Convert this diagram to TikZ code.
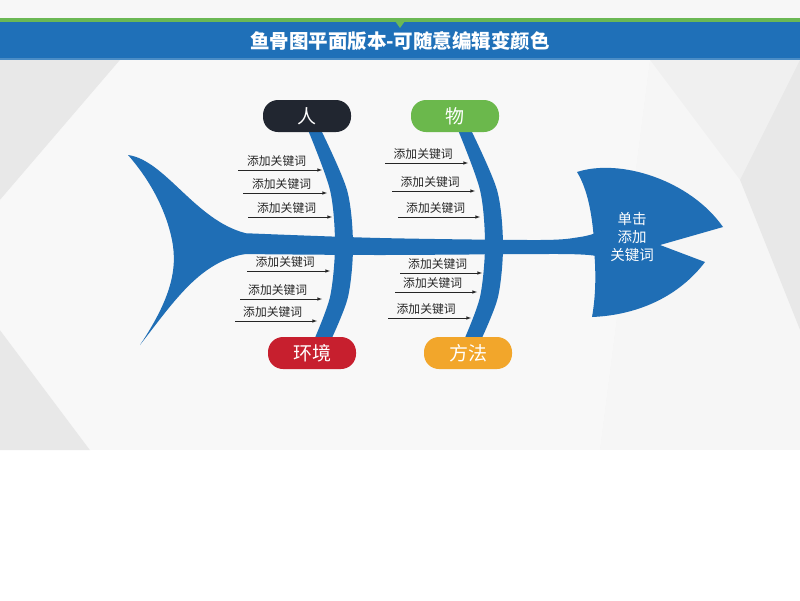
\documentclass[tikz,border=0pt]{standalone}
\usepackage{fontspec}
\setmainfont{Noto Sans CJK SC}
\usepackage{tikz}
\usetikzlibrary{positioning}
\definecolor{fishblue}{rgb}{0.12, 0.43, 0.71}
\definecolor{barblue}{rgb}{0.12, 0.44, 0.72}
\definecolor{bargreen}{rgb}{0.42, 0.72, 0.33}
\definecolor{pilldark}{rgb}{0.13, 0.15, 0.19}
\definecolor{pillgreen}{rgb}{0.42, 0.72, 0.30}
\definecolor{pillred}{rgb}{0.78, 0.12, 0.18}
\definecolor{pillorange}{rgb}{0.95, 0.65, 0.17}
\definecolor{bggray}{rgb}{0.94, 0.94, 0.94}
\definecolor{bgdark}{rgb}{0.91, 0.91, 0.91}
\definecolor{txt}{rgb}{0.15, 0.15, 0.15}
\tikzstyle{pill} = [rectangle,rounded corners=15pt,minimum width=88pt,minimum height=32pt,text=white,font=\fontsize{19}{19}\selectfont]
\tikzstyle{lbl} = [font=\fontsize{11.8}{12}\selectfont,text=txt,inner sep=1pt,above=2.5pt,pos=0.46]
\tikzstyle{arr} = [-latex,draw=txt,line width=0.6pt]
\tikzstyle{bone} = [fill=fishblue,draw=none]

\begin{document}
\begin{tikzpicture}[x=1pt,y=-1pt]
			\useasboundingbox (0,0) rectangle (800,600);
			\fill[white] (0,0) rectangle (800,600);
			\fill[bggray] (0,0) rectangle (800,450);
			\fill[bgdark] (0,60) -- (120,60) -- (0,200) -- cycle;
			\fill[bgdark] (800,60) -- (800,330) -- (740,180) -- cycle;
			\fill[bgdark] (0,330) -- (90,450) -- (0,450) -- cycle;
			\fill[white,opacity=0.55] (120,60) -- (650,60) -- (600,450) -- (90,450) -- (0,330) -- (0,200) -- cycle;
			\fill[white,opacity=0.4] (650,60) -- (740,180) -- (800,330) -- (800,450) -- (600,450) -- cycle;
			\fill[white,opacity=0.5] (0,0) rectangle (800,18);
			\fill[bargreen] (0,18) rectangle (800,22);
			\fill[barblue] (0,22) rectangle (800,60);
			\fill[barblue!80!white] (0,58) rectangle (800,60);
			\fill[bargreen] (395,21) -- (405,21) -- (400,28) -- cycle;
			\node[text=white,font=\fontsize{19.5}{20}\selectfont\bfseries](title) at (400,41){鱼骨图平面版本-可随意编辑变颜色};

			\fill[bone] (128,155) .. controls (165,160) and (195,220) .. (245,233) -- (245,254) .. controls (200,262) and (175,300) .. (140,345) .. controls (170,300) and (178,270) .. (172,240) .. controls (166,210) and (150,180) .. (128,155) -- cycle;
			\fill[bone] plot[smooth] coordinates {(240,233) (380,238) (540,240) (580,237) (596,233)} -- plot[smooth] coordinates {(596,256) (560,254) (380,255) (240,254)} -- cycle;
			\fill[bone] (577,172) .. controls (620,158) and (690,180) .. (723,227) -- (660,245) -- (705,262) .. controls (680,295) and (640,315) .. (592,317) .. controls (596,295) and (596,270) .. (594,250) -- (594,240) .. controls (592,215) and (588,190) .. (577,172) -- cycle;
			\fill[bone] plot[smooth] coordinates {(308,130) (330,190) (335,245) (330,297) (314,340)} -- plot[smooth] coordinates {(331,340) (348,297) (353,245) (347,190) (321,130)} -- cycle;
			\fill[bone] plot[smooth] coordinates {(458,130) (480,190) (485,245) (480,297) (464,340)} -- plot[smooth] coordinates {(481,340) (498,297) (503,245) (497,190) (471,130)} -- cycle;

			\node[text=white,align=center,font=\fontsize{14.5}{18}\selectfont](head) at (632,237){单击\\添加\\关键词};

			\node[pill,fill=pilldark](ren) at (307,116){人};
			\node[pill,fill=pillgreen](wu) at (455,116){物};
			\node[pill,fill=pillred](hj) at (312,353){环境};
			\node[pill,fill=pillorange](ff) at (468,353){方法};

			\coordinate (k1a) at (238,170); \coordinate (k1b) at (322,170);
			\coordinate (k2a) at (243,193); \coordinate (k2b) at (327,193);
			\coordinate (k3a) at (248,217); \coordinate (k3b) at (332,217);
			\coordinate (k4a) at (247,271); \coordinate (k4b) at (330,271);
			\coordinate (k5a) at (240,299); \coordinate (k5b) at (322,299);
			\coordinate (k6a) at (235,321); \coordinate (k6b) at (317,321);
			\coordinate (k7a) at (385,163); \coordinate (k7b) at (468,163);
			\coordinate (k8a) at (392,191); \coordinate (k8b) at (475,191);
			\coordinate (k9a) at (398,217); \coordinate (k9b) at (480,217);
			\coordinate (k10a) at (400,273); \coordinate (k10b) at (482,273);
			\coordinate (k11a) at (395,292); \coordinate (k11b) at (477,292);
			\coordinate (k12a) at (388,318); \coordinate (k12b) at (471,318);

			\draw[arr](k1a)--node[lbl]{添加关键词}(k1b);
			\draw[arr](k2a)--node[lbl]{添加关键词}(k2b);
			\draw[arr](k3a)--node[lbl]{添加关键词}(k3b);
			\draw[arr](k4a)--node[lbl]{添加关键词}(k4b);
			\draw[arr](k5a)--node[lbl]{添加关键词}(k5b);
			\draw[arr](k6a)--node[lbl]{添加关键词}(k6b);
			\draw[arr](k7a)--node[lbl]{添加关键词}(k7b);
			\draw[arr](k8a)--node[lbl]{添加关键词}(k8b);
			\draw[arr](k9a)--node[lbl]{添加关键词}(k9b);
			\draw[arr](k10a)--node[lbl]{添加关键词}(k10b);
			\draw[arr](k11a)--node[lbl]{添加关键词}(k11b);
			\draw[arr](k12a)--node[lbl]{添加关键词}(k12b);
			\end{tikzpicture}
\end{document}
